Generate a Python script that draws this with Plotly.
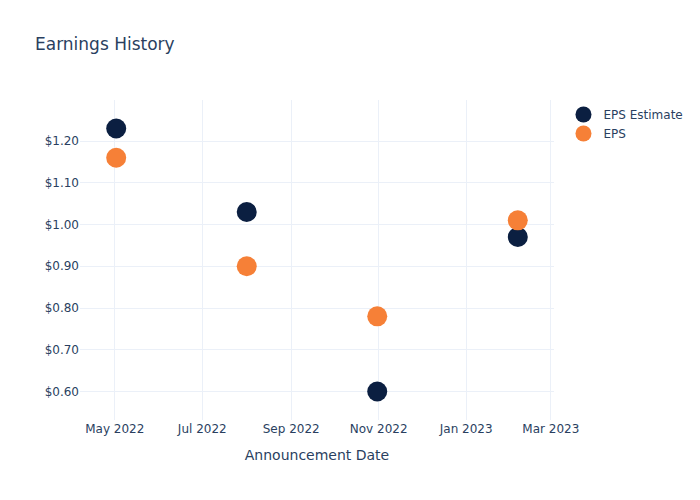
import plotly.graph_objects as go

dates = ["2022-05-02", "2022-08-01", "2022-10-31", "2023-02-06"]
eps_estimate = [1.23, 1.03, 0.60, 0.97]
eps_actual = [1.16, 0.90, 0.78, 1.01]

fig = go.Figure()
fig.add_trace(go.Scatter(x=dates, y=eps_estimate, mode="markers", name="EPS Estimate",
                         marker=dict(color="#0b1f41", size=20)))
fig.add_trace(go.Scatter(x=dates, y=eps_actual, mode="markers", name="EPS",
                         marker=dict(color="#f68037", size=20)))
fig.update_layout(
    template="plotly_white",
    width=700, height=500,
    font=dict(family="DejaVu Sans"),
    title=dict(text="Earnings History"),
    xaxis=dict(title=dict(text="Announcement Date")),
    yaxis=dict(tickprefix="$", tickformat=".2f"),
)
fig.write_html("out.html")
